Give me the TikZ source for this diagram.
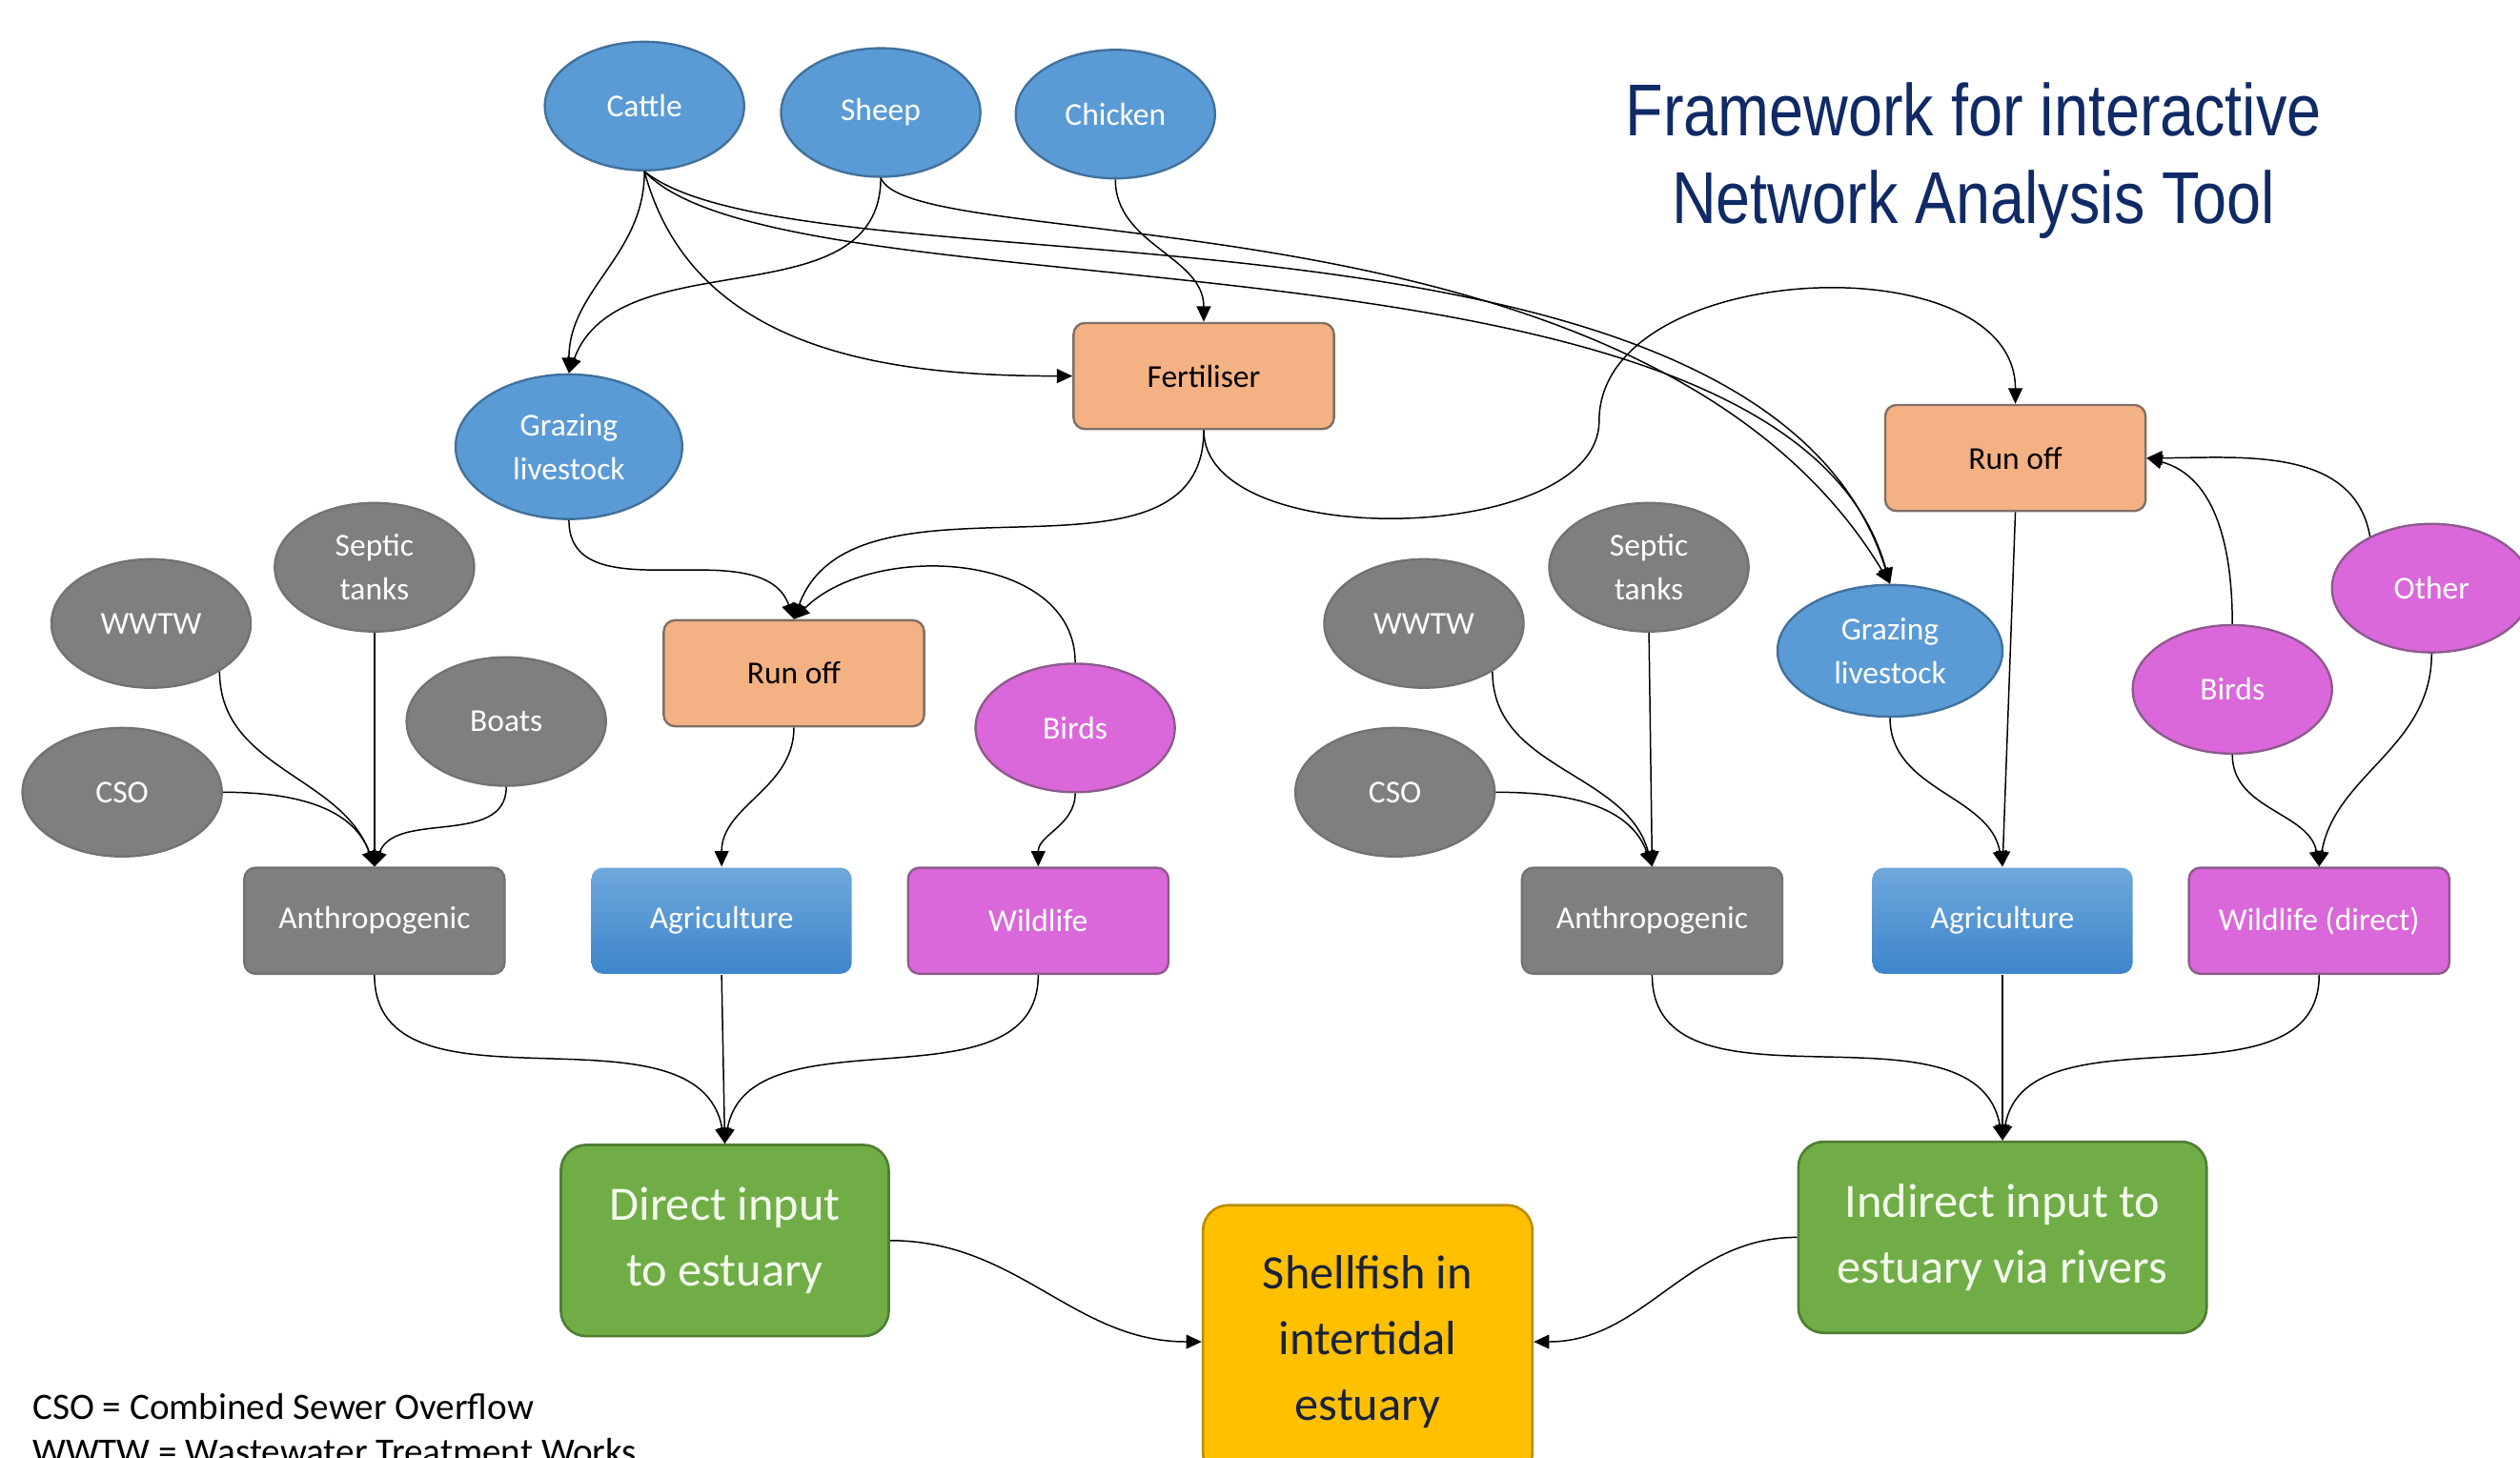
\documentclass[tikz,border=0pt]{standalone}
\usepackage{fontspec}
\setmainfont{Carlito}
\newfontfamily\titlefont[FakeStretch=0.84]{Liberation Sans}
\usetikzlibrary{arrows.meta,shapes.geometric,positioning}

\definecolor{cowblue}{HTML}{5B9BD5}
\definecolor{cowedge}{HTML}{41719C}
\definecolor{farmtop}{HTML}{6FA8DC}
\definecolor{farmbottom}{HTML}{3D85CB}
\definecolor{humangray}{HTML}{7F7F7F}
\definecolor{humanedge}{HTML}{727272}
\definecolor{birdpink}{HTML}{DA68DA}
\definecolor{birdedge}{HTML}{8E5A8E}
\definecolor{runpeach}{HTML}{F4B183}
\definecolor{runedge}{HTML}{7F6F66}
\definecolor{inputgreen}{HTML}{70AD47}
\definecolor{greenedge}{HTML}{507E32}
\definecolor{fishgold}{HTML}{FFC000}
\definecolor{goldedge}{HTML}{BC8C00}
\definecolor{titleblue}{HTML}{102A66}
\definecolor{paletext}{HTML}{F4FAEC}
\definecolor{fishtext}{HTML}{1A2238}

\tikzset{
  src/.style={ellipse,draw,line width=0.8pt,minimum width=2.48cm,minimum height=1.6cm,
    inner sep=0pt,text=white,align=center,font=\fontsize{11.3}{15.4}\selectfont},
  animal/.style={src,fill=cowblue,draw=cowedge},
  human/.style={src,fill=humangray,draw=humanedge},
  wild/.style={src,fill=birdpink,draw=birdedge},
  box/.style={rectangle,rounded corners=4pt,draw,line width=0.8pt,minimum width=3.24cm,
    minimum height=1.32cm,align=center,font=\fontsize{11.3}{15.4}\selectfont},
  runbox/.style={box,fill=runpeach,draw=runedge,text=black},
  humanbox/.style={box,fill=humangray,draw=humanedge,text=white},
  farmbox/.style={box,top color=farmtop,bottom color=farmbottom,draw=none,text=white},
  wildbox/.style={box,fill=birdpink,draw=birdedge,text=white},
  inbox/.style={rectangle,rounded corners=9pt,draw=greenedge,fill=inputgreen,line width=0.9pt,
    minimum height=2.38cm,align=center,text=paletext,font=\fontsize{17}{23.3}\selectfont},
  fishbox/.style={inbox,draw=goldedge,fill=fishgold,text=fishtext,minimum width=4.1cm,
    minimum height=3.4cm},
  link/.style={-{Triangle[length=5.5pt,width=5pt]},line width=0.5pt,black},
}

\begin{document}
\begin{tikzpicture}[x=0.2mm,y=0.2mm]
\useasboundingbox (0,0) rectangle (1568,-907);

% livestock and fertiliser
\node[animal] (cattle)  at (401,-66) {Cattle};
\node[animal] (sheep)   at (548,-70) {Sheep};
\node[animal] (chicken) at (694,-71) {Chicken};
\node[animal,minimum width=2.82cm,minimum height=1.8cm] (grazeL) at (354,-278) {Grazing\\livestock};
\node[runbox] (fert) at (749,-234) {Fertiliser};
\node[runbox] (runL) at (494,-419) {Run off};
\node[runbox] (runR) at (1254,-285) {Run off};
\node[animal,minimum width=2.8cm,minimum height=1.64cm] (grazeR) at (1176,-405) {Grazing\\livestock};

% sources, left
\node[human] (wwtwL)   at (94,-388)  {WWTW};
\node[human] (septicL) at (233,-353) {Septic\\tanks};
\node[human] (boats)   at (315,-449) {Boats};
\node[human] (csoL)    at (76,-493)  {CSO};
\node[wild]  (birdsL)  at (669,-453) {Birds};

% sources, right
\node[human] (wwtwR)   at (886,-388)  {WWTW};
\node[human] (septicR) at (1026,-353) {Septic\\tanks};
\node[human] (csoR)    at (868,-493)  {CSO};
\node[wild]  (birdsR)  at (1389,-429) {Birds};
\node[wild]  (other)   at (1513,-366) {Other};

% categories
\node[humanbox] (anthroL) at (233,-573)  {Anthropogenic};
\node[farmbox]  (agriL)   at (449,-573)  {Agriculture};
\node[wildbox]  (wildL)   at (646,-573)  {Wildlife};
\node[humanbox] (anthroR) at (1028,-573) {Anthropogenic};
\node[farmbox]  (agriR)   at (1246,-573) {Agriculture};
\node[wildbox]  (wildR)   at (1443,-573) {Wildlife (direct)};

% inputs and target
\node[inbox,minimum width=4.08cm] (direct)   at (451,-772)  {Direct input\\to estuary};
\node[inbox,minimum width=5.08cm] (indirect) at (1246,-770) {Indirect input to\\estuary via rivers};
\node[fishbox] (fish) at (851,-835) {Shellfish in\\intertidal\\estuary};

\node[font=\titlefont\fontsize{26}{31.3}\selectfont,text=titleblue,align=center] (title)
  at (1228,-100) {Framework for interactive\\Network Analysis Tool};
\node[anchor=north west,align=left,inner sep=0pt,font=\fontsize{13.2}{15.9}\selectfont] (legend)
  at (20,-867) {CSO = Combined Sewer Overflow\\WWTW = Wastewater Treatment Works};

\coordinate (loop) at (995,-262);

% links
\draw[link] (cattle.south) to[out=-90,in=90] (grazeL.north);
\draw[link] (sheep.south) to[out=-90,in=70] (grazeL.north);
\draw[link] (cattle.south) to[out=-75,in=180] (fert.west);
\draw[link] (chicken.south) to[out=-90,in=90] (fert.north);
\draw[link] (cattle.south) .. controls +(100,-80) and +(-80,260) .. (grazeR.north);
\draw[link] (cattle.south) .. controls +(90,-95) and +(-65,235) .. (grazeR.north);
\draw[link] (sheep.south) .. controls +(20,-50) and +(-150,250) .. (grazeR.north);
\draw[link] (fert.south) to[out=-90,in=-90,looseness=0.8] (loop) to[out=90,in=90] (runR.north);

\draw[link] (fert.south) to[out=-90,in=70] (runL.north);
\draw[link] (grazeL.south) to[out=-90,in=110] (runL.north);
\draw[link] (birdsL.north) to[out=90,in=45] (runL.north);
\draw[link] (runL.south) to[out=-90,in=90] (agriL.north);
\draw[link] (birdsL.south) to[out=-90,in=90] (wildL.north);

\draw[link] (wwtwL.-35) to[out=-90,in=110] (anthroL.north);
\draw[link] (septicL.south) -- (anthroL.north);
\draw[link] (boats.south) to[out=-90,in=70] (anthroL.north);
\draw[link] (csoL.east) to[out=0,in=110] (anthroL.north);

\draw[link] (wwtwR.-35) to[out=-90,in=105] (anthroR.north);
\draw[link] (septicR.south) -- (anthroR.north);
\draw[link] (csoR.east) to[out=0,in=110] (anthroR.north);

\draw[link] (grazeR.south) to[out=-90,in=100] (agriR.north);
\draw[link] (runR.south) -- (agriR.north);
\draw[link] (birdsR.north) to[out=90,in=-15] (runR.east);
\draw[link] (other.140) to[out=100,in=0] (runR.east);
\draw[link] (birdsR.south) to[out=-90,in=100] (wildR.north);
\draw[link] (other.south) to[out=-90,in=80] (wildR.north);

\draw[link] (anthroL.south) to[out=-90,in=100] (direct.north);
\draw[link] (agriL.south) -- (direct.north);
\draw[link] (wildL.south) to[out=-90,in=80] (direct.north);
\draw[link] (anthroR.south) to[out=-90,in=100] (indirect.north);
\draw[link] (agriR.south) -- (indirect.north);
\draw[link] (wildR.south) to[out=-90,in=80] (indirect.north);
\draw[link] (direct.east) to[out=0,in=180] (fish.west);
\draw[link] (indirect.west) to[out=180,in=0] (fish.east);
\end{tikzpicture}
\end{document}
